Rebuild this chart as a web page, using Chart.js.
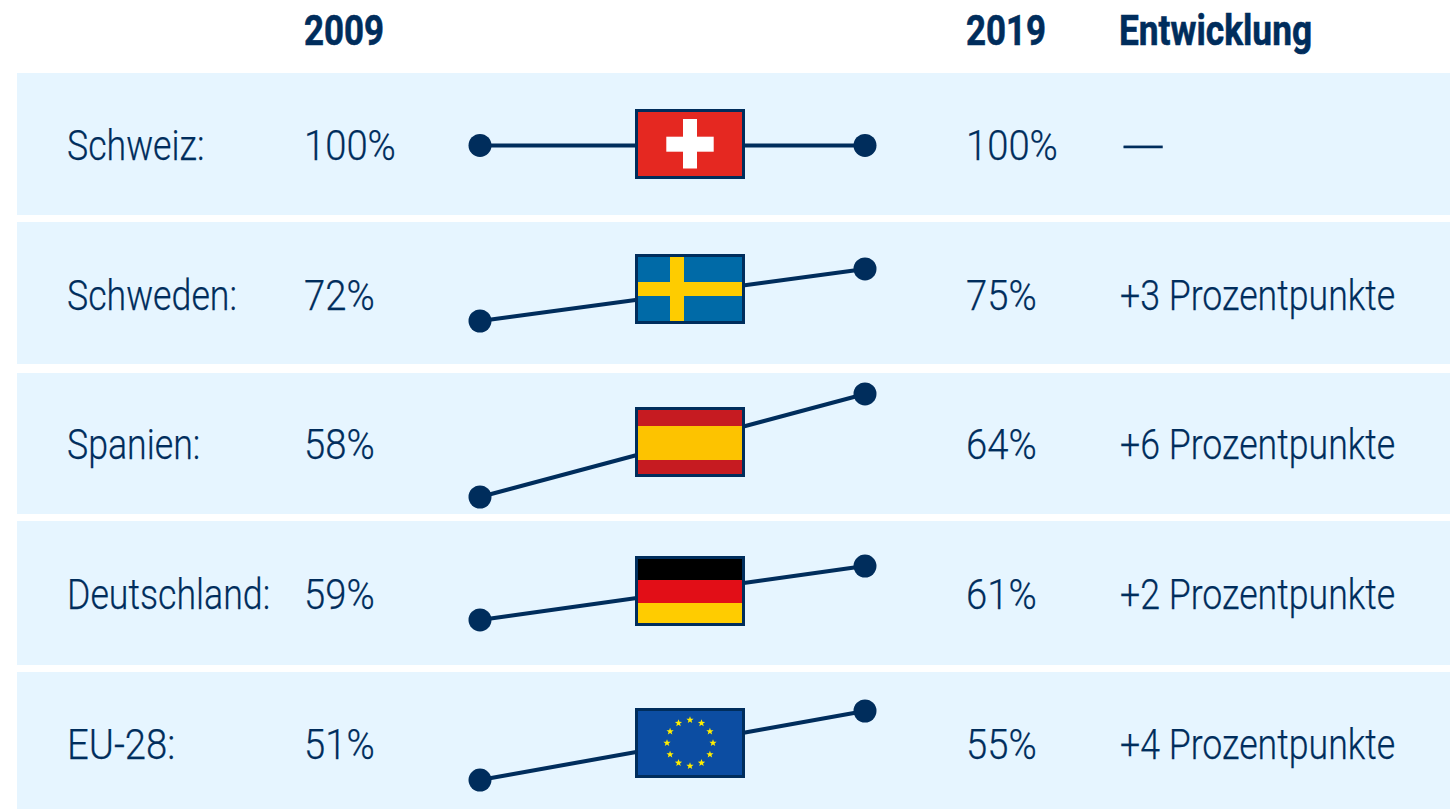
<!DOCTYPE html>
<html lang="de">
<head>
<meta charset="utf-8">
<title>Entwicklung 2009 - 2019</title>
<script src="https://cdn.jsdelivr.net/npm/chart.js@4/dist/chart.umd.min.js"></script>
<style>
  html,body{margin:0;padding:0;background:#fff;}
  #page{position:relative;width:1450px;height:809px;overflow:hidden;color:#002d5c;
    font-family:"Roboto",sans-serif;font-size:42px;font-weight:300;}
  .row{position:absolute;left:17px;width:1433px;background:#e6f5ff;}
  .txt{position:absolute;line-height:44px;white-space:nowrap;transform:scaleX(.85);transform-origin:left center;-webkit-text-stroke:.25px #002d5c;}
  .head{font-weight:bold;top:9px;-webkit-text-stroke:.6px #002d5c;transform:scaleX(.83);}
  .wide{transform:scaleX(.84);}
  .num{transform:scaleX(.91);}
  .dash{transform:translateY(2px) scaleX(1.42);}
  canvas{position:absolute;}
  .flag{position:absolute;left:635px;width:110px;height:70px;display:block;}
</style>
</head>
<body>
<div id="page"></div>
<script>
const years = ['2009','2019'];
const countries = ['Schweiz:','Schweden:','Spanien:','Deutschland:','EU-28:'];
const values2009 = [100,72,58,59,51];
const values2019 = [100,75,64,61,55];
const changes = ['—','+3 Prozentpunkte','+6 Prozentpunkte','+2 Prozentpunkte','+4 Prozentpunkte'];

// each row has its own y range, the slopes are not on a shared scale
const axisMin = [90,69.52,57.01,57.33,49.32];
const axisMax = [110.4,77.71,65.22,62.67,57.26];

const rowTop = [73,222,373,521,672];
const rowBottom = [215,364,514,665,809];
const textMid = [146,296,445,595,745];
const flagTop = [109,254,407,556,708];

const navy = '#002d5c';
const page = document.getElementById('page');

function addText(str, x, y, cls){
  const d = document.createElement('div');
  d.className = 'txt ' + (cls||'');
  d.style.left = x+'px';
  if (y!==null) d.style.top = y+'px';
  d.textContent = str;
  page.appendChild(d);
}

function stars(){
  let out = '';
  for (let i=0;i<12;i++){
    const a = i*Math.PI/6, cx = 55+23*Math.sin(a), cy = 35-23*Math.cos(a);
    let pts = [];
    for (let k=0;k<10;k++){
      const r = k%2 ? 1.6 : 3.8, b = k*Math.PI/5;
      pts.push((cx+r*Math.sin(b)).toFixed(2)+','+(cy-r*Math.cos(b)).toFixed(2));
    }
    out += `<polygon points="${pts.join(' ')}" fill="#ffed00"/>`;
  }
  return out;
}

const flagArt = [
  `<rect width="110" height="70" fill="#e52821"/><rect x="48" y="10" width="14" height="49.5" fill="#fff"/><rect x="31.3" y="27.7" width="47.4" height="15" fill="#fff"/>`,
  `<rect width="110" height="70" fill="#006aa7"/><rect x="35" width="14" height="70" fill="#fecc00"/><rect y="28" width="110" height="14" fill="#fecc00"/>`,
  `<rect width="110" height="70" fill="#c61b21"/><rect y="19" width="110" height="34" fill="#fdc300"/>`,
  `<rect width="110" height="24" fill="#000"/><rect y="24" width="110" height="23" fill="#e20e17"/><rect y="47" width="110" height="23" fill="#ffcc00"/>`,
  `<rect width="110" height="70" fill="#0c4da2"/>` + stars()
];

function addFlag(i){
  const wrap = document.createElement('div');
  wrap.innerHTML = `<svg class="flag" style="top:${flagTop[i]}px" viewBox="0 0 110 70" xmlns="http://www.w3.org/2000/svg">${flagArt[i]}<rect x="1.5" y="1.5" width="107" height="67" fill="none" stroke="${navy}" stroke-width="3"/></svg>`;
  page.appendChild(wrap.firstChild);
}

function addRow(i){
  const h = rowBottom[i]-rowTop[i];
  const row = document.createElement('div');
  row.className = 'row';
  row.style.top = rowTop[i]+'px';
  row.style.height = h+'px';
  page.appendChild(row);

  const canvas = document.createElement('canvas');
  canvas.width = 465; canvas.height = h;
  canvas.style.left = '440px';
  canvas.style.top = rowTop[i]+'px';
  page.appendChild(canvas);

  new Chart(canvas.getContext('2d'), {
    type:'line',
    data:{labels:years, datasets:[{
      label:countries[i],
      data:[values2009[i],values2019[i]],
      borderColor:navy, backgroundColor:navy, borderWidth:4,
      pointRadius:11.5, pointHoverRadius:11.5, pointBackgroundColor:navy, pointBorderWidth:0,
      tension:0, clip:false
    }]},
    options:{
      responsive:false, animation:false,
      layout:{autoPadding:false,padding:{left:40,right:40,top:0,bottom:0}},
      plugins:{legend:{display:false},tooltip:{enabled:false}},
      scales:{
        x:{display:false},
        y:{display:false,min:axisMin[i],max:axisMax[i]}
      }
    }
  });

  addFlag(i);
  const t = textMid[i]-22;
  addText(countries[i],67,t,i===4?'num':'');
  addText(values2009[i]+'%',303.5,t,'num');
  addText(values2019[i]+'%',965.5,t,'num');
  addText(changes[i],1120,t,changes[i]==='—'?'dash':'');
}

addText(years[0],304,null,'head');
addText(years[1],966,null,'head');
addText('Entwicklung',1119,null,'head wide');
countries.forEach((c,i)=>addRow(i));
</script>
</body>
</html>
